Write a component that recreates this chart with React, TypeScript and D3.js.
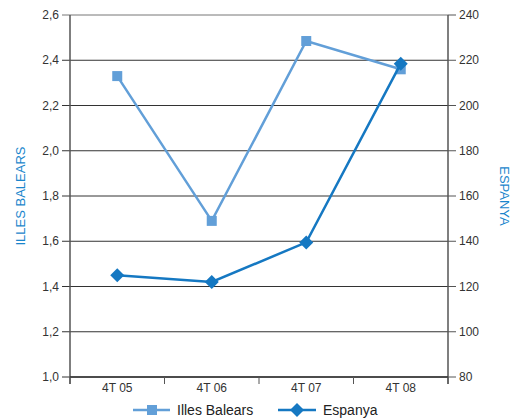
import React from "react";
import * as d3 from "d3";

const categories = ["4T 05", "4T 06", "4T 07", "4T 08"];
const balearsValues = [2.33, 1.69, 2.485, 2.36];
const espanyaValues = [125, 122, 139.5, 218.5];
const leftTicks = [1.0, 1.2, 1.4, 1.6, 1.8, 2.0, 2.2, 2.4, 2.6];
const rightTicks = [80, 100, 120, 140, 160, 180, 200, 220, 240];

const W = 516, H = 420;
const L = 70, R = 448, T = 15, B = 377;
const balearsColor = "#629fd8";
const espanyaColor = "#1578c2";
const titleColor = "#1a86cc";
const font = "'Liberation Sans', Arial, sans-serif";

export default function App() {
  const x = d3.scaleBand<string>().domain(categories).range([L, R]);
  const yL = d3.scaleLinear().domain([1.0, 2.6]).range([B, T]);
  const yR = d3.scaleLinear().domain([80, 240]).range([B, T]);
  const cx = (c: string) => (x(c) as number) + x.bandwidth() / 2;
  const fmt = (v: number) => v.toFixed(1).replace(".", ",");

  const lineB = d3.line<number>().x((_, i) => cx(categories[i])).y((d) => yL(d));
  const lineE = d3.line<number>().x((_, i) => cx(categories[i])).y((d) => yR(d));

  const boundaries = [...categories.map((c) => x(c) as number), R];
  const midY = (T + B) / 2;

  return (
    <svg width={W} height={H} style={{ position: "absolute", left: 0, top: 0, fontFamily: font }}>
      <rect width={W} height={H} fill="#fff" />
      {leftTicks.map((t) => (
        <g key={"l" + t}>
          <line x1={L - 8} x2={R} y1={yL(t)} y2={yL(t)} stroke={t === 2.6 ? "#777" : "#333"} strokeWidth={1} />
          <text x={L - 11} y={yL(t)} dy="0.35em" textAnchor="end" fontSize={12} fill="#333">{fmt(t)}</text>
        </g>
      ))}
      {rightTicks.map((t) => (
        <g key={"r" + t}>
          <line x1={R} x2={R + 8} y1={yR(t)} y2={yR(t)} stroke="#555" strokeWidth={1} />
          <text x={R + 11} y={yR(t)} dy="0.35em" textAnchor="start" fontSize={12} fill="#333">{t}</text>
        </g>
      ))}
      <line x1={L} x2={L} y1={T} y2={B + 7} stroke="#555" strokeWidth={1.5} />
      <line x1={R} x2={R} y1={T} y2={B + 7} stroke="#555" strokeWidth={1.5} />
      <line x1={L} x2={R} y1={B} y2={B} stroke="#333" strokeWidth={1.5} />
      {boundaries.map((b, i) => (
        <line key={"xt" + i} x1={b} x2={b} y1={B} y2={B + 7} stroke="#555" strokeWidth={1} />
      ))}
      {categories.map((c) => (
        <text key={c} x={cx(c)} y={392} textAnchor="middle" fontSize={12} fill="#333">{c}</text>
      ))}
      <text transform={`translate(25,${midY}) rotate(-90)`} textAnchor="middle" fontSize={13} fill={titleColor}>ILLES BALEARS</text>
      <text transform={`translate(500,${midY}) rotate(90)`} textAnchor="middle" fontSize={13} fill={titleColor}>ESPANYA</text>

      <path d={lineB(balearsValues) as string} fill="none" stroke={balearsColor} strokeWidth={2.5} />
      {balearsValues.map((v, i) => (
        <rect key={"b" + i} x={cx(categories[i]) - 5} y={yL(v) - 5} width={10} height={10} fill={balearsColor} />
      ))}
      <path d={lineE(espanyaValues) as string} fill="none" stroke={espanyaColor} strokeWidth={2.5} />
      {espanyaValues.map((v, i) => {
        const px = cx(categories[i]), py = yR(v);
        return <path key={"e" + i} d={`M${px},${py - 7}L${px + 7},${py}L${px},${py + 7}L${px - 7},${py}Z`} fill={espanyaColor} />;
      })}

      <g>
        <line x1={133} x2={170} y1={410} y2={410} stroke={balearsColor} strokeWidth={2.5} />
        <rect x={147} y={405} width={10} height={10} fill={balearsColor} />
        <text x={177} y={410} dy="0.35em" fontSize={14} fill="#222">Illes Balears</text>
        <line x1={278} x2={316} y1={410} y2={410} stroke={espanyaColor} strokeWidth={2.5} />
        <path d={`M297,403L304,410L297,417L290,410Z`} fill={espanyaColor} />
        <text x={323} y={410} dy="0.35em" fontSize={14} fill="#222">Espanya</text>
      </g>
    </svg>
  );
}
